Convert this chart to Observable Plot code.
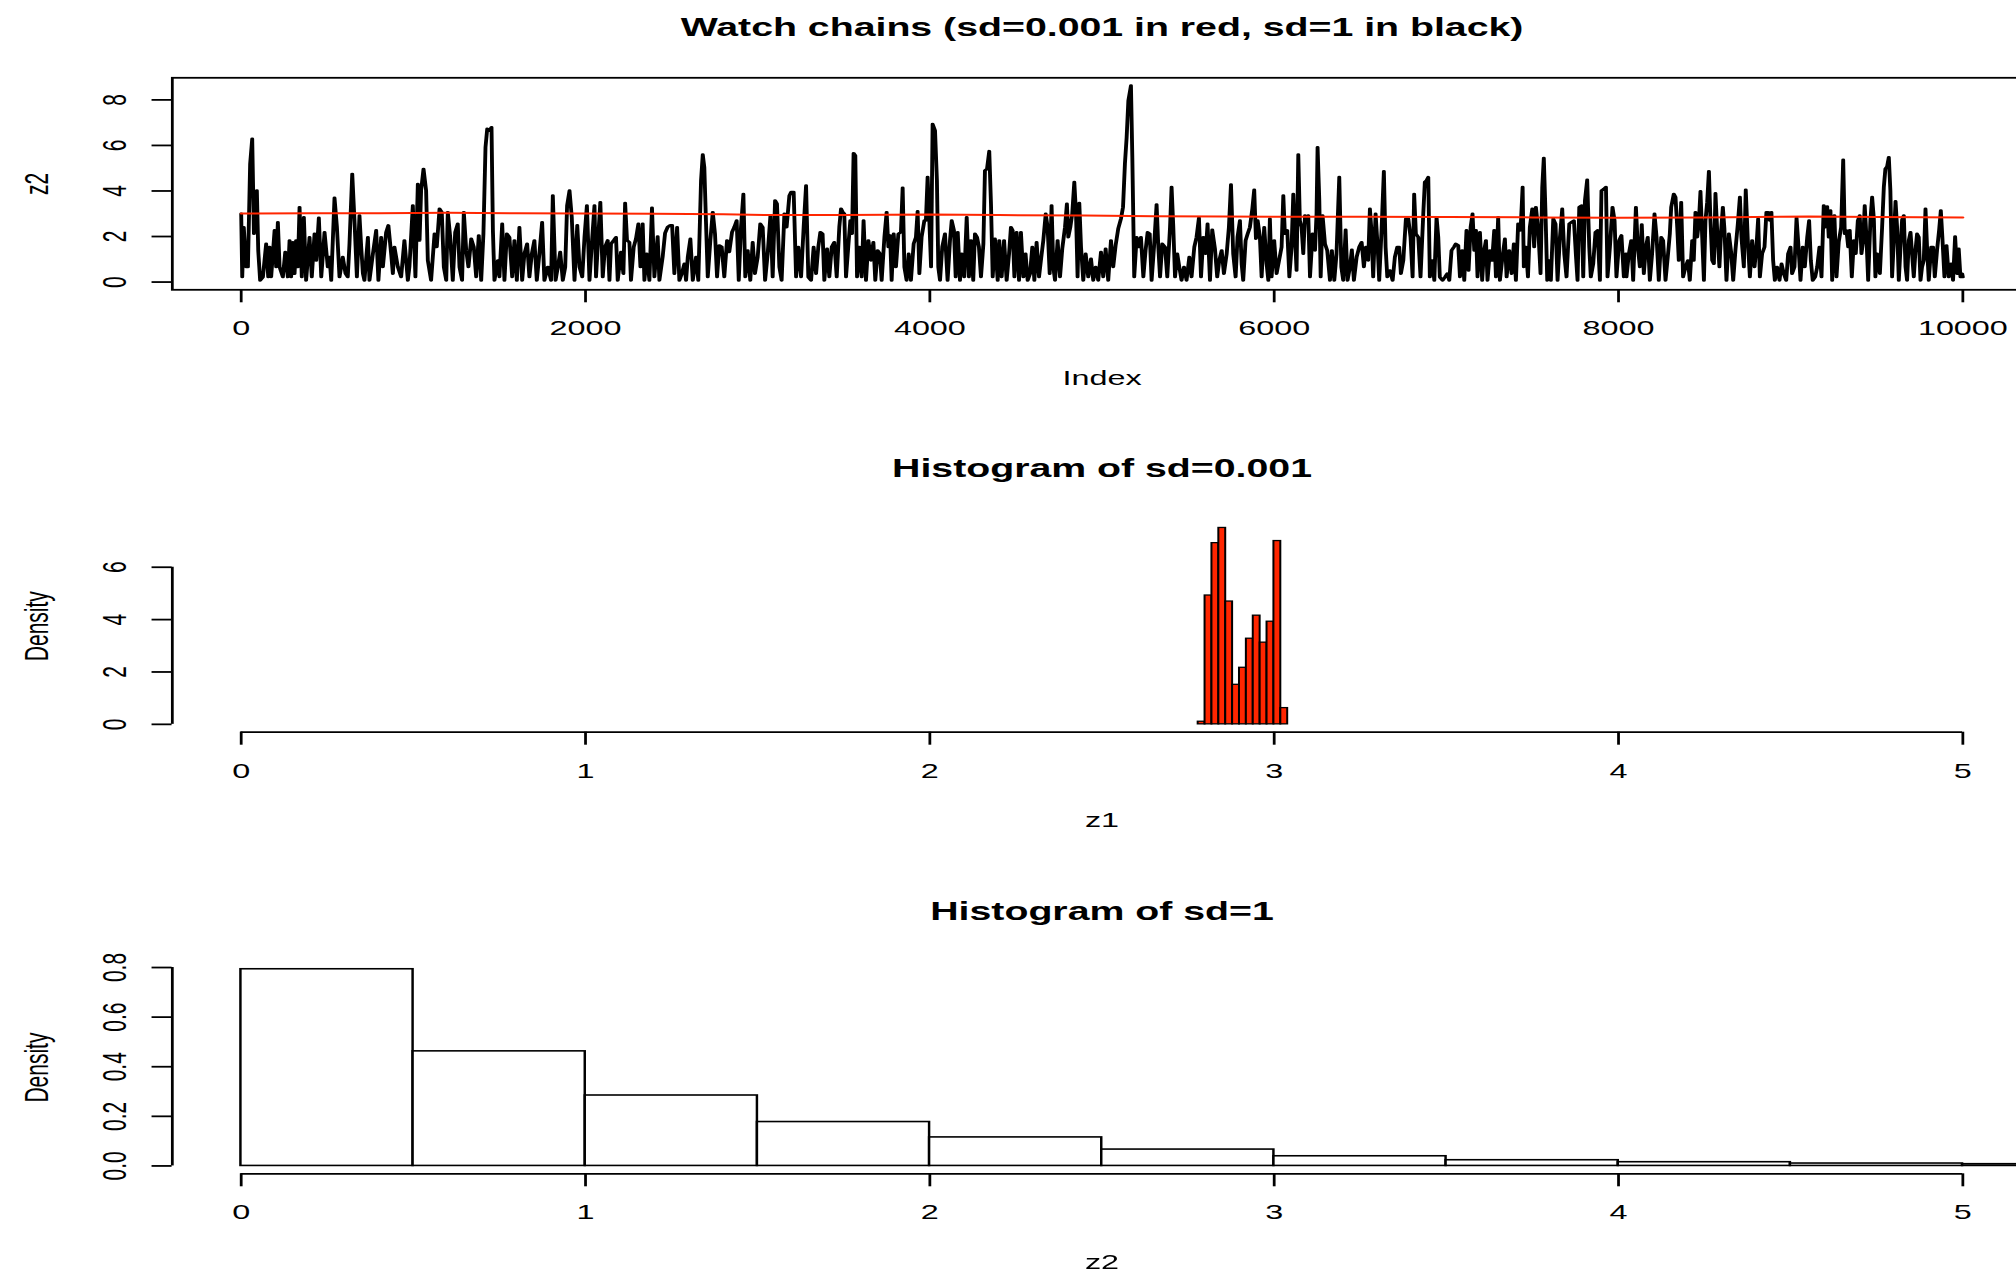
<!DOCTYPE html>
<html><head><meta charset="utf-8">
<script src="https://cdn.jsdelivr.net/npm/d3@7"></script>
<script src="https://cdn.jsdelivr.net/npm/@observablehq/plot@0.6"></script>
<style>
html,body{margin:0;padding:0;background:#fff;overflow:hidden;width:2016px;height:1272px;}
#wrap{width:1330px;transform:scaleX(1.54);transform-origin:0 0;}
#wrap svg{display:block;}
</style></head><body><div id="wrap"></div>
<script>
// ---------- data ----------
const titles = ["Watch chains (sd=0.001 in red, sd=1 in black)", "Histogram of sd=0.001", "Histogram of sd=1"];
const xLabels = ["Index", "z1", "z2"];
const yLabels = ["z2", "Density", "Density"];

const chainXLim = [-400, 10400];
const chainYLim = [-0.34, 8.97];
const chainTicksX = [0, 2000, 4000, 6000, 8000, 10000];
const chainTicksY = [0, 2, 4, 6, 8];

// black chain (sd=1): [index, z2]
const z2Seg1 = [[0,3.00],[6,0.22],[15,2.41],[29,0.66],[39,0.66],[52,5.19],[64,6.29],[74,2.12],[83,3.58],[91,4.02],[99,1.39],[110,0.07],[126,0.22],[145,1.68],[157,0.22],[165,1.54],[174,0.22],[194,2.27],[203,0.66],[213,2.63],[223,0.66],[242,0.22],[256,1.32],[271,0.22],[281,1.83],[290,0.22],[300,1.75],[310,0.37],[319,1.83],[329,0.66],[339,3.29],[352,0.22],[364,2.85],[377,0.07],[397,1.97],[410,0.22],[426,2.12],[436,0.95],[451,2.82],[465,0.22],[484,2.19],[503,0.66],[513,1.10],[523,0.07],[542,3.70],[556,2.41],[571,0.22],[590,1.10],[606,0.37],[619,0.22],[629,1.68],[645,4.75],[658,2.70],[672,0.22],[687,2.92],[697,1.54],[707,0.37],[716,0.07],[736,1.97],[745,0.07],[765,1.24],[784,2.27],[797,0.07],[813,1.97],[823,0.66],[832,1.39],[842,2.19],[855,2.49],[871,1.24],[881,0.37],[890,1.54],[910,0.66],[929,0.22],[948,1.83],[968,0.07],[977,0.66],[997,3.36],[1012,0.22],[1026,4.31],[1036,1.83],[1045,4.02],[1059,4.97],[1074,4.02],[1084,0.95],[1103,0.07],[1123,2.12],[1136,1.54],[1152,3.22],[1165,3.07],[1177,0.66],[1191,0.07],[1200,3.07],[1214,1.97],[1229,0.07],[1243,2.19],[1258,2.56],[1268,0.66],[1283,0.07],[1293,3.07],[1307,1.39],[1320,0.66],[1336,1.90],[1351,1.54],[1365,0.22],[1380,2.05],[1394,0.07],[1407,2.12],[1419,5.92],[1429,6.73],[1442,6.65],[1454,6.80],[1462,2.27],[1471,0.07],[1491,0.95],[1500,0.22],[1516,2.56],[1529,0.07],[1543,2.12],[1558,1.97],[1574,0.22],[1587,1.83],[1601,0.07],[1616,2.41],[1632,0.07],[1645,1.24],[1661,1.68],[1674,0.22],[1688,1.24],[1703,1.83],[1717,0.07],[1732,1.24],[1748,2.63],[1761,0.07],[1781,0.66],[1800,0.07],[1810,3.80],[1826,0.07],[1839,0.66],[1853,1.32],[1868,0.07],[1882,0.66],[1893,3.36],[1907,4.02],[1920,2.85],[1936,0.07],[1952,2.49],[1965,0.66],[1981,0.22],[1994,1.97],[2008,3.36],[2023,0.07],[2038,1.83]];
const z2Seg2 = [[2052,3.36],[2061,0.22],[2075,2.12],[2086,3.51],[2100,0.22],[2113,1.54],[2129,1.83],[2139,0.07],[2148,1.68],[2164,1.83],[2177,1.97],[2187,0.07],[2206,1.32],[2220,0.37],[2230,3.47],[2241,1.83],[2255,1.75],[2264,0.07],[2280,1.54],[2293,1.90],[2307,2.56],[2319,0.66],[2332,2.56],[2342,0.07],[2355,1.24],[2371,0.07],[2386,3.26],[2400,0.22],[2419,2.00],[2429,0.07],[2448,1.10],[2462,2.15],[2477,2.41],[2491,2.49],[2503,2.49],[2516,0.37],[2532,2.41],[2545,0.07],[2559,0.37],[2574,0.80],[2584,0.07],[2594,1.10],[2609,1.90],[2623,0.07],[2642,1.10],[2655,0.07],[2671,4.46],[2681,5.60],[2690,5.04],[2700,2.56],[2710,0.22],[2725,1.83],[2739,3.07],[2752,2.12],[2764,0.22],[2777,1.61],[2791,1.54],[2806,0.22],[2822,1.83],[2835,1.32],[2851,2.19],[2864,2.41],[2878,2.70],[2890,0.07],[2903,2.41],[2917,3.87],[2928,0.22],[2942,1.39],[2957,0.07],[2971,1.75],[2984,0.37],[3000,1.10],[3015,2.56],[3029,2.41],[3043,0.07],[3058,1.24],[3074,2.92],[3087,0.22],[3101,3.58],[3112,3.44],[3126,0.66],[3139,0.07],[3155,3.00],[3168,2.41],[3184,3.80],[3194,3.95],[3209,3.95],[3223,0.22],[3236,1.54],[3252,0.22],[3267,2.41],[3281,4.24],[3294,0.22],[3310,0.07],[3325,1.54],[3339,0.37],[3352,1.54],[3364,2.19],[3377,2.12],[3387,0.07],[3403,1.46],[3416,0.22],[3430,1.54],[3445,1.75],[3459,0.22],[3474,2.41],[3484,3.22],[3494,3.07],[3503,3.00],[3513,0.22],[3526,1.54],[3538,2.70],[3548,2.12],[3557,5.66],[3567,5.56],[3577,0.22],[3590,1.54],[3604,0.22],[3615,2.70],[3629,0.07],[3643,1.83],[3658,0.95],[3672,1.75],[3683,0.07],[3697,1.39],[3710,1.24],[3720,0.07],[3736,1.97],[3749,3.07],[3759,1.54],[3769,2.05],[3778,0.07],[3790,2.12],[3803,0.66],[3817,2.12],[3832,2.19],[3842,4.14],[3852,0.66],[3865,0.07],[3877,1.24],[3890,0.07],[3906,1.68],[3919,1.97],[3929,3.11],[3939,0.37],[3952,1.97],[3968,2.70],[3977,2.70],[3987,4.61],[3997,2.70],[4007,0.66],[4016,6.94],[4030,6.65],[4041,4.46]];
const z2Seg3 = [[4049,0.66],[4059,0.07],[4072,1.54],[4088,2.12],[4103,0.07],[4117,1.83],[4127,2.70],[4140,2.27],[4150,0.22],[4162,2.19],[4175,0.07],[4185,1.24],[4200,0.22],[4214,2.85],[4227,0.22],[4239,1.83],[4252,0.07],[4262,2.12],[4274,1.97],[4285,1.54],[4297,0.22],[4311,1.68],[4320,4.90],[4332,4.97],[4345,5.75],[4355,3.44],[4365,0.22],[4378,1.90],[4394,0.07],[4403,1.83],[4417,0.22],[4431,1.83],[4446,0.07],[4460,1.24],[4471,2.41],[4481,2.27],[4491,0.22],[4504,2.19],[4518,0.07],[4529,2.19],[4543,0.22],[4556,1.24],[4568,0.07],[4582,0.37],[4595,1.54],[4607,0.07],[4620,1.75],[4634,0.22],[4645,0.95],[4659,1.83],[4673,3.00],[4684,2.41],[4696,0.37],[4707,3.36],[4717,0.66],[4727,0.07],[4742,1.83],[4756,0.22],[4769,1.46],[4785,2.41],[4796,3.44],[4804,1.97],[4816,2.41],[4827,3.00],[4839,4.39],[4849,3.00],[4858,0.22],[4868,3.47],[4878,1.54],[4891,0.07],[4905,1.24],[4920,0.22],[4936,1.02],[4949,0.07],[4963,0.66],[4978,0.07],[4994,1.32],[5007,0.22],[5021,1.46],[5036,0.07],[5052,1.83],[5065,0.66],[5079,1.61],[5094,2.34],[5110,2.78],[5122,3.29],[5133,5.19],[5143,6.36],[5153,7.97],[5168,8.63],[5176,5.48],[5187,0.22],[5201,1.97],[5215,1.54],[5226,1.97],[5240,0.22],[5253,1.39],[5265,2.19],[5277,2.12],[5288,0.07],[5302,1.54],[5317,3.41],[5327,1.54],[5337,0.22],[5350,1.68],[5366,1.54],[5379,0.22],[5395,2.41],[5404,4.17],[5414,2.41],[5424,0.22],[5437,1.24],[5449,0.66],[5462,0.07],[5476,0.66],[5491,0.07],[5507,1.10],[5520,0.22],[5536,1.54],[5549,1.97],[5563,2.82],[5575,0.22],[5588,1.97],[5602,1.24],[5613,2.56],[5627,0.07],[5640,2.30],[5656,1.46],[5669,0.22],[5681,0.95],[5695,1.39],[5708,0.37],[5724,1.24],[5737,2.41],[5749,4.28],[5762,1.24],[5776,0.22],[5787,1.97],[5801,2.70],[5811,0.80],[5820,0.07],[5834,1.83],[5846,2.12],[5859,2.41],[5873,3.22],[5884,4.05],[5894,1.90],[5904,2.70],[5917,1.97],[5927,0.22],[5942,2.41],[5956,0.80],[5966,0.07],[5975,2.78],[5985,0.22],[6000,1.83],[6014,0.37]];
const z2Seg4 = [[6043,1.54],[6053,3.80],[6062,2.12],[6076,2.27],[6088,0.22],[6101,1.54],[6111,3.87],[6120,2.12],[6130,0.51],[6140,5.60],[6149,2.70],[6159,2.41],[6169,1.24],[6179,2.92],[6188,2.70],[6198,2.92],[6208,0.22],[6223,2.12],[6237,1.39],[6246,3.00],[6252,5.92],[6262,3.58],[6270,0.22],[6281,2.92],[6295,1.68],[6308,1.39],[6324,0.07],[6335,1.39],[6349,0.07],[6362,1.24],[6378,4.61],[6390,0.66],[6401,0.07],[6415,2.30],[6426,0.07],[6440,0.66],[6451,1.42],[6463,0.07],[6479,1.10],[6494,1.54],[6508,1.75],[6521,0.66],[6533,1.54],[6546,0.95],[6556,3.22],[6566,2.12],[6575,0.22],[6589,3.00],[6601,1.54],[6610,0.07],[6624,2.34],[6637,4.87],[6647,1.54],[6657,0.22],[6672,0.51],[6688,0.07],[6701,1.10],[6715,1.54],[6726,1.54],[6736,0.37],[6750,0.95],[6765,2.78],[6779,2.78],[6792,1.97],[6804,0.22],[6813,3.87],[6823,2.12],[6837,1.97],[6850,0.22],[6866,3.00],[6875,4.39],[6885,4.46],[6895,4.61],[6904,0.22],[6918,0.95],[6930,0.07],[6943,2.85],[6953,1.97],[6962,0.22],[6978,0.07],[6992,0.22],[7005,0.37],[7017,0.07],[7030,1.39],[7044,1.54],[7055,1.68],[7069,1.61],[7079,0.22],[7092,1.39],[7104,0.07],[7117,2.27],[7129,0.51],[7141,2.41],[7152,3.00],[7162,1.39],[7172,2.27],[7181,0.22],[7195,2.19],[7208,0.07],[7218,1.32],[7230,1.83],[7239,0.07],[7253,1.39],[7266,0.95],[7278,2.27],[7288,0.22],[7301,2.85],[7311,0.07],[7326,1.10],[7340,1.90],[7350,0.22],[7365,1.39],[7379,0.37],[7392,1.68],[7404,0.07],[7417,2.56],[7431,2.27],[7443,4.17],[7450,0.66],[7462,1.54],[7474,0.22],[7485,2.41],[7499,3.22],[7510,1.54],[7520,3.29],[7534,2.27],[7547,0.37],[7557,4.17],[7566,5.45],[7576,3.00],[7586,0.07],[7597,0.95],[7607,0.07],[7621,2.78],[7634,2.56],[7646,0.07],[7659,1.90],[7673,3.22],[7685,1.24],[7698,0.22],[7714,2.56],[7727,2.63],[7741,2.70],[7752,1.24],[7762,0.07],[7772,3.29],[7785,3.36],[7795,0.22],[7805,3.58],[7818,4.49],[7830,1.54],[7839,0.22],[7853,0.80],[7866,2.19],[7878,2.27],[7892,0.07],[7901,4.02],[7915,4.09],[7927,4.17],[7936,0.22],[7950,1.54],[7965,3.29],[7977,2.70],[7988,0.22],[8004,1.83],[8017,2.05],[8031,0.22],[8043,1.24]];
const z2Seg5 = [[8046,0.22],[8060,1.24],[8074,1.83],[8085,0.07],[8101,3.29],[8112,1.54],[8124,0.66],[8135,2.53],[8147,0.37],[8159,1.54],[8170,1.97],[8182,0.07],[8195,1.24],[8209,3.00],[8221,1.97],[8234,0.07],[8248,1.97],[8259,1.83],[8273,0.07],[8286,1.10],[8298,2.12],[8306,3.29],[8321,3.87],[8331,3.73],[8341,2.41],[8350,0.95],[8364,3.51],[8375,0.22],[8389,0.66],[8403,0.95],[8414,0.07],[8428,1.83],[8437,0.95],[8447,3.07],[8457,1.97],[8466,2.56],[8476,3.99],[8486,1.97],[8496,0.07],[8505,2.70],[8515,3.51],[8525,4.87],[8534,2.70],[8544,0.95],[8554,0.80],[8563,3.90],[8573,2.27],[8586,0.66],[8596,2.27],[8606,3.29],[8615,2.34],[8627,0.07],[8641,2.12],[8654,1.32],[8666,0.07],[8679,1.39],[8693,2.56],[8705,3.73],[8714,1.97],[8728,0.66],[8739,4.05],[8751,1.83],[8763,0.22],[8776,1.83],[8790,0.66],[8801,1.54],[8811,2.78],[8821,0.22],[8834,1.24],[8848,1.54],[8859,3.07],[8869,3.07],[8879,2.70],[8888,3.07],[8898,0.95],[8908,0.07],[8921,0.66],[8935,0.07],[8947,0.80],[8960,0.37],[8974,0.07],[8985,1.24],[8999,1.54],[9008,0.37],[9022,0.66],[9034,2.82],[9043,1.83],[9057,0.07],[9070,1.54],[9082,0.66],[9096,1.97],[9107,2.70],[9117,0.95],[9128,0.07],[9142,0.22],[9154,0.66],[9167,1.54],[9179,0.22],[9192,3.36],[9202,2.41],[9212,3.32],[9221,1.97],[9231,3.14],[9241,0.07],[9254,2.92],[9266,0.22],[9279,1.75],[9293,2.41],[9305,5.37],[9314,2.12],[9324,2.27],[9334,1.54],[9343,2.27],[9355,0.22],[9367,1.83],[9378,1.24],[9390,2.70],[9401,2.92],[9411,1.24],[9421,1.83],[9430,3.36],[9440,1.97],[9450,0.07],[9463,2.70],[9473,3.73],[9483,2.78],[9492,0.22],[9502,1.24],[9518,0.37],[9531,2.41],[9541,4.17],[9550,4.97],[9560,5.07],[9570,5.48],[9579,4.02],[9589,0.22],[9599,1.83],[9609,3.55],[9618,2.41],[9628,0.07],[9638,1.54],[9647,2.73],[9657,2.92],[9667,0.66],[9676,0.07],[9686,1.83],[9696,2.19],[9705,1.24],[9715,0.22],[9725,1.39],[9734,2.12],[9744,1.97],[9754,0.07],[9763,0.66],[9773,0.95],[9783,3.22],[9792,1.54],[9802,0.07],[9816,1.54],[9827,1.54],[9837,0.22],[9850,1.39],[9862,2.27],[9872,3.14],[9881,1.97],[9893,0.22],[9905,1.61],[9918,0.22],[9932,0.80],[9943,0.07],[9955,2.00],[9967,0.37],[9976,1.46],[9986,0.22],[9996,0.37],[10000,0.22]];

// red chain (sd=0.001)
const z1Index = [0,400,800,1200,1600,2000,2400,2800,3100,3500,4000,4400,4900,5300,5700,6000,6500,7000,7500,8000,8500,9100,9500,10000];
const z1Value = [3.01,3.02,3.02,3.04,3.02,3.01,3.00,2.98,2.94,2.95,2.97,2.94,2.92,2.89,2.88,2.87,2.87,2.86,2.84,2.82,2.84,2.88,2.86,2.84];

// histogram of sd=0.001
const histXLim = [-0.2, 5.2];
const histTicksX = [0, 1, 2, 3, 4, 5];
const hist1YLim = [-0.3, 7.8];
const hist1TicksY = [0, 2, 4, 6];
const z1BinEdges = [2.78,2.80,2.82,2.84,2.86,2.88,2.90,2.92,2.94,2.96,2.98,3.00,3.02,3.04];
const z1Density = [0.10,4.92,6.92,7.50,4.69,1.51,2.16,3.27,4.15,3.12,3.92,7.00,0.62];

// histogram of sd=1
const hist2YLim = [-0.0317, 0.8247];
const hist2TicksY = [0, 0.2, 0.4, 0.6, 0.8];
const z2BinEdges = [0,0.5,1,1.5,2,2.5,3,3.5,4,4.5,5,5.5];
const z2Density = [0.793,0.462,0.284,0.177,0.115,0.066,0.039,0.023,0.015,0.0097,0.007];

// ---------- drawing ----------
const RED = "#ff2600";
const FONT = "'Liberation Sans', Arial, Helvetica, sans-serif";
const W = 1330, ML = 111.4, MR = 11.2;
const base = (mt, mb) => ({
  width: W, height: 424, marginLeft: ML, marginRight: MR, marginTop: mt, marginBottom: mb,
  style: {fontFamily: FONT, fontSize: "21px", color: "black", background: "white", overflow: "visible"}
});
const xAxis = (ticks) => Plot.axisX({ticks, tickSize: 13, tickPadding: 17.5, tickFormat: d => String(d), label: null, strokeWidth: 1.8, fontSize: 21});
const yAxis = (ticks, fmt) => Plot.axisY({ticks, tickSize: 13, tickPadding: 17, tickRotate: -90, tickFormat: fmt, label: null, strokeWidth: 1.8, fontSize: 21});
const titleMark = (t, dy) => Plot.text([t], {text: d => d, frameAnchor: "top", dy, lineAnchor: "middle", fontSize: 25.5, fontWeight: "bold"});
const xLab = (t) => Plot.text([t], {text: d => d, frameAnchor: "bottom", dy: 88, lineAnchor: "middle", fontSize: 21});
const yLab = (t) => Plot.text([t], {text: d => d, frameAnchor: "left", dx: -81, rotate: -90, lineAnchor: "bottom", textAnchor: "middle", fontSize: 21});

const chain = [z2Seg1, z2Seg2, z2Seg3, z2Seg4, z2Seg5].flat().map(([i, v]) => ({i, v}));
const redChain = z1Index.map((i, k) => ({i, v: z1Value[k]}));

const p1 = Plot.plot({
  ...base(77.3, 134.7),
  x: {domain: chainXLim}, y: {domain: chainYLim},
  marks: [
    Plot.line(chain, {x: "i", y: "v", stroke: "black", strokeWidth: 2.5}),
    Plot.line(redChain, {x: "i", y: "v", stroke: RED, strokeWidth: 2}),
    Plot.frame({strokeWidth: 1.8}),
    xAxis(chainTicksX),
    yAxis(chainTicksY, d => String(d)),
    titleMark(titles[0], -50),
    xLab(xLabels[0]), yLab(yLabels[0])
  ]
});

const bins1 = z1Density.map((d, k) => ({a: z1BinEdges[k], b: z1BinEdges[k + 1], d}));
const p2 = Plot.plot({
  ...base(95.6, 116.3),
  x: {domain: histXLim}, y: {domain: hist1YLim},
  marks: [
    Plot.rect(bins1, {x1: "a", x2: "b", y1: 0, y2: "d", fill: RED, stroke: "black", strokeWidth: 1.3}),
    Plot.ruleY([hist1YLim[0]], {x1: histTicksX[0], x2: histTicksX[histTicksX.length - 1], strokeWidth: 1.8}),
    Plot.ruleX([histXLim[0]], {y1: hist1TicksY[0], y2: hist1TicksY[hist1TicksY.length - 1], strokeWidth: 1.8}),
    xAxis(histTicksX),
    yAxis(hist1TicksY, d => String(d)),
    titleMark(titles[1], -51.6),
    xLab(xLabels[1]), yLab(yLabels[1])
  ]
});

const bins2 = z2Density.map((d, k) => ({a: z2BinEdges[k], b: z2BinEdges[k + 1], d}));
const p3 = Plot.plot({
  ...base(112.9, 98.7),
  x: {domain: histXLim}, y: {domain: hist2YLim},
  marks: [
    Plot.rect(bins2, {x1: "a", x2: "b", y1: 0, y2: "d", fill: "white", stroke: "black", strokeWidth: 1.6, clip: true}),
    Plot.ruleY([hist2YLim[0]], {x1: histTicksX[0], x2: histTicksX[histTicksX.length - 1], strokeWidth: 1.8}),
    Plot.ruleX([histXLim[0]], {y1: hist2TicksY[0], y2: hist2TicksY[hist2TicksY.length - 1], strokeWidth: 1.8}),
    xAxis(histTicksX),
    yAxis(hist2TicksY, d => d.toFixed(1)),
    titleMark(titles[2], -49.2),
    xLab(xLabels[2]), yLab(yLabels[2])
  ]
});

const wrap = document.getElementById("wrap");
wrap.append(p1, p2, p3);
</script></body></html>
